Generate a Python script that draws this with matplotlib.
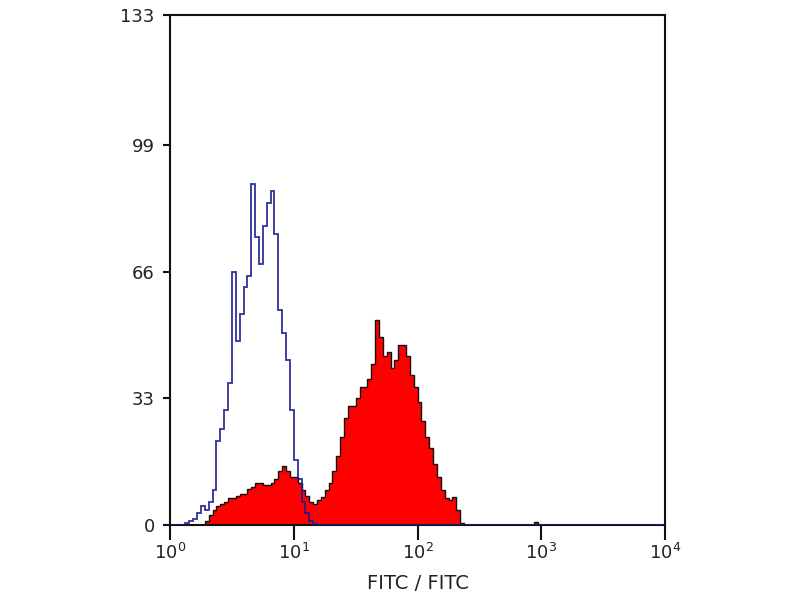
import numpy as np
import matplotlib
matplotlib.use("Agg")
import matplotlib.pyplot as plt

plt.rcParams['font.family'] = ['DejaVu Sans']
plt.rcParams['mathtext.default'] = 'regular'

# histogram channels: 128 bins over 4 decades (log10 units)
n_bins = 128
log_min, log_max = 0.0, 4.0

# isotype control (blue outline), starting at bin 4
blue_start = 4
blue_counts = [0.5, 1, 1.5, 3, 5, 4, 6, 9, 22, 25, 30, 37, 66, 48, 55, 62, 65, 89,
               75, 68, 78, 84, 87, 76, 56, 50, 43, 30, 17, 12, 6, 3, 1, 0.3]

# stained sample (red filled), starting at bin 9
red_start = 9
red_counts = [1, 2.5, 4, 5, 5.5, 6, 7, 7, 7.5, 8, 8, 9.5, 10, 11, 11, 10.5, 10.5, 11,
              12, 14, 15.5, 14, 12.5, 12.5, 11, 9, 7.5, 6, 5.5, 6.5, 7.3, 9, 11, 14,
              18, 23, 28, 31, 31, 33, 36, 36, 38, 42, 53.5, 49, 44, 45, 41, 43, 47,
              47, 44, 39, 36, 32, 27, 23, 20, 16, 12.5, 9, 7, 6.5, 7.3, 4, 0.5]
# single stray event near 10^3
red_far_bin = 94
red_far_count = 0.8

y_ticks = [0, 33, 66, 99, 133]
x_ticks = [1, 10, 100, 1000, 10000]
x_tick_labels = ['$10^{0}$', '$10^{1}$', '$10^{2}$', '$10^{3}$', '$10^{4}$']
x_label = 'FITC / FITC'

edges = np.logspace(log_min, log_max, n_bins + 1)

def full(start, counts):
    v = np.zeros(n_bins)
    v[start:start + len(counts)] = counts
    return v

blue = full(blue_start, blue_counts)
red = full(red_start, red_counts)
red[red_far_bin] = red_far_count

fig = plt.figure(figsize=(8, 6), dpi=100)
ax = fig.add_axes([0.2125, 0.125, 0.619, 0.85])

ax.stairs(red, edges, fill=True, color='#ff0000', zorder=2)
ax.stairs(red, edges, color='#111111', lw=1.0, zorder=3)
ax.stairs(blue, edges, color='#1a1a90', lw=1.3, zorder=4, alpha=0.9)

ax.set_xscale('log')
ax.set_xlim(1, 10000)
ax.set_ylim(0, 133)
ax.set_xticks(x_ticks)
ax.set_xticklabels(x_tick_labels)
ax.xaxis.set_minor_locator(matplotlib.ticker.NullLocator())
ax.set_yticks(y_ticks)
ax.set_yticklabels([str(t) for t in y_ticks])

for s in ax.spines.values():
    s.set_linewidth(1.5)
    s.set_color('#111111')

ax.tick_params(axis='x', length=11, width=1.5, labelsize=13, colors='#111111',
               labelcolor='#222222', pad=2)
ax.tick_params(axis='y', length=5, width=1.5, labelsize=13, colors='#111111',
               labelcolor='#222222', pad=6)
ax.set_xlabel(x_label, fontsize=14, color='#222222', labelpad=8)

fig.savefig('out.png', dpi=100)
